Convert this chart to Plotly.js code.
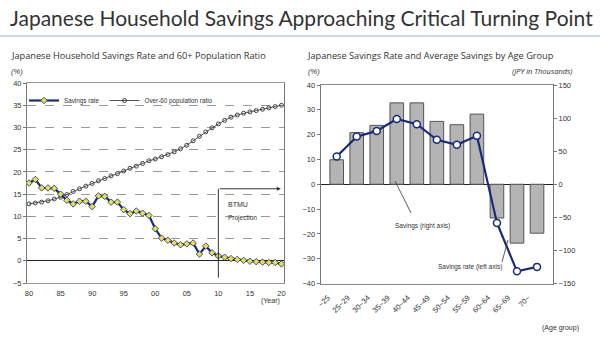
<!DOCTYPE html>
<html>
<head>
<meta charset="utf-8">
<script src="https://cdn.plot.ly/plotly-3.0.1.min.js"></script>
<style>html,body{margin:0;padding:0;background:#fff;}#chart{width:600px;height:348px;}</style>
</head>
<body>
<div id="chart"></div>
<script>
// ---- Left chart data ----
const years = [1980,1981,1982,1983,1984,1985,1986,1987,1988,1989,1990,1991,1992,1993,1994,1995,1996,1997,1998,1999,2000,2001,2002,2003,2004,2005,2006,2007,2008,2009,2010,2011,2012,2013,2014,2015,2016,2017,2018,2019,2020];
const savingsRate = [17.5,18.3,16.4,16.4,16.3,15.0,13.6,12.8,13.4,13.4,12.2,14.6,14.5,13.2,13.2,11.5,10.6,11.2,10.7,10.2,7.2,5.1,4.6,4.0,3.6,3.8,4.0,1.5,3.3,1.8,1.1,0.8,0.5,0.3,0.1,-0.1,-0.2,-0.3,-0.4,-0.4,-0.7];
const over60Ratio = [12.8,13.0,13.2,13.5,13.9,14.3,14.9,15.6,16.2,16.8,17.4,18.0,18.5,19.1,19.6,20.2,20.8,21.3,21.9,22.5,22.9,23.4,23.9,24.5,25.2,26.0,27.0,28.0,29.0,29.9,30.8,31.6,32.3,32.8,33.2,33.5,33.8,34.1,34.4,34.7,35.0];
const yearTickVals = [1980,1985,1990,1995,2000,2005,2010,2015,2020];
const yearTickText = ["80","85","90","95","00","05","10","15","20"];
const projectionStart = 2010;

// ---- Right chart data ----
const ageGroups = ["~25","25~29","30~34","35~39","40~44","45~49","50~54","55~59","60~64","65~69","70~"];
const avgSavings = [37,78,89,123,123,95,90,106,-51,-89,-74];      // JPY thousands, right axis
const ageSavingsRate = [11.2,19.2,21.5,26.3,24.2,17.9,15.9,19.5,-15.6,-35.1,-33.3]; // %, left axis

const W = 600, H = 348;
const px = v => v / W;
const py = v => 1 - v / H;

const tickFont = {family: 'Liberation Sans, Arial, sans-serif', size: 7.5, color: '#333'};

const traces = [
  {
    x: years, y: over60Ratio, name: 'Over-60 population ratio', type: 'scatter', mode: 'lines+markers',
    xaxis: 'x', yaxis: 'y',
    line: {color: '#555', width: 1},
    marker: {symbol: 'circle-open', size: 4, color: '#444', line: {width: 1}}
  },
  {
    x: years, y: savingsRate, name: 'Savings rate', type: 'scatter', mode: 'lines+markers',
    xaxis: 'x', yaxis: 'y',
    line: {color: '#1b2a78', width: 2.2},
    marker: {symbol: 'diamond', size: 5, color: '#e6df4f', line: {color: '#1b2a78', width: 0.8}}
  },
  {
    x: ageGroups, y: avgSavings, name: 'Savings (right axis)', type: 'bar',
    xaxis: 'x2', yaxis: 'y2', width: 0.68,
    marker: {color: '#b4b4b4', line: {color: '#555', width: 1}},
    showlegend: false
  },
  {
    x: ageGroups, y: ageSavingsRate, name: 'Savings rate (left axis)', type: 'scatter', mode: 'lines+markers',
    xaxis: 'x2', yaxis: 'y3',
    line: {color: '#1b2a78', width: 2.2},
    marker: {symbol: 'circle', size: 7, color: '#ffffff', line: {color: '#1b2a78', width: 1.5}},
    showlegend: false
  }
];

const layout = {
  width: W, height: H,
  margin: {l: 0, r: 0, t: 0, b: 0},
  paper_bgcolor: '#fff', plot_bgcolor: '#fff',
  font: {family: 'Liberation Sans, Arial, sans-serif', color: '#333'},
  showlegend: true,
  legend: {
    orientation: 'h', x: px(24), y: py(86), xanchor: 'left', yanchor: 'top',
    font: {size: 6.3, color: '#333'}, bgcolor: 'rgba(0,0,0,0)', traceorder: 'reversed',
    itemwidth: 30, tracegroupgap: 0
  },
  xaxis: {
    domain: [px(27), px(284)], range: [1979.68, 2020.4], anchor: 'y',
    tickvals: yearTickVals, ticktext: yearTickText, tickfont: tickFont,
    showgrid: false, zeroline: false, showline: true, mirror: true, linecolor: '#999', linewidth: 1,
    ticks: '', ticklen: 0, ticklabelstandoff: 3
  },
  yaxis: {
    domain: [py(283), py(83)], range: [-5, 40], dtick: 5, anchor: 'x',
    tickfont: tickFont, showgrid: true, gridcolor: '#999', griddash: 'dash', gridwidth: 1,
    zeroline: true, zerolinecolor: '#222', zerolinewidth: 1,
    showline: true, mirror: true, linecolor: '#777', linewidth: 1, ticks: 'outside', ticklen: 3, tickcolor: '#777'
  },
  xaxis2: {
    domain: [px(320.7), px(553)], anchor: 'y2', type: 'category',
    tickangle: -45, tickfont: tickFont, showgrid: false, zeroline: false,
    showline: true, mirror: true, linecolor: '#888', linewidth: 1, ticks: '',
    ticklabelshift: -9, ticklabelstandoff: 6
  },
  yaxis2: {
    domain: [py(283.5), py(85)], range: [-150, 150], dtick: 50, anchor: 'x2', side: 'right',
    tickfont: tickFont, showgrid: false, zeroline: false,
    showline: true, linecolor: '#777', ticks: 'outside', ticklen: 3, tickcolor: '#777'
  },
  yaxis3: {
    domain: [py(283.5), py(85)], range: [-40, 40], dtick: 10, anchor: 'x2', overlaying: 'y2', side: 'left',
    tickfont: tickFont, showgrid: false, zeroline: true, zerolinecolor: '#222', zerolinewidth: 1,
    showline: true, linecolor: '#777', ticks: 'outside', ticklen: 3, tickcolor: '#777'
  },
  bargap: 0.3,
  shapes: [
    {type: 'line', xref: 'paper', yref: 'paper', x0: 0, x1: 1, y0: py(36), y1: py(36), line: {color: '#9bb0d0', width: 1}},
    {type: 'line', xref: 'x', yref: 'y', x0: projectionStart, x1: projectionStart, y0: -3.8, y1: 16.2, line: {color: '#333', width: 1}},
    {type: 'line', xref: 'paper', yref: 'paper', x0: px(395), y0: py(181), x1: px(411), y1: py(213), line: {color: '#333', width: 0.8}},
    {type: 'line', xref: 'paper', yref: 'paper', x0: px(502), y0: py(262), x1: px(508), y1: py(240), line: {color: '#333', width: 0.8}}
  ],
  annotations: [
    {text: 'Japanese Household Savings Approaching Critical Turning Point', xref: 'paper', yref: 'paper', x: px(8), y: py(18), xanchor: 'left', yanchor: 'middle', showarrow: false, font: {family: 'Lato, Open Sans, sans-serif', size: 21, color: '#333'}},
    {text: 'Japanese Household Savings Rate and 60+ Population Ratio', xref: 'paper', yref: 'paper', x: px(9), y: py(55), xanchor: 'left', yanchor: 'middle', showarrow: false, font: {family: 'Open Sans, sans-serif', size: 9.2, color: '#333'}},
    {text: 'Japanese Savings Rate and Average Savings by Age Group', xref: 'paper', yref: 'paper', x: px(305), y: py(55), xanchor: 'left', yanchor: 'middle', showarrow: false, font: {family: 'Open Sans, sans-serif', size: 9.2, color: '#333'}},
    {text: '<i>(%)</i>', xref: 'paper', yref: 'paper', x: px(9), y: py(72), xanchor: 'left', yanchor: 'middle', showarrow: false, font: {size: 7.5, color: '#333'}},
    {text: '<i>(%)</i>', xref: 'paper', yref: 'paper', x: px(306), y: py(72), xanchor: 'left', yanchor: 'middle', showarrow: false, font: {size: 7.5, color: '#333'}},
    {text: '<i>(JPY in Thousands)</i>', xref: 'paper', yref: 'paper', x: px(574), y: py(71), xanchor: 'right', yanchor: 'middle', showarrow: false, font: {family: 'Open Sans, sans-serif', size: 7.5, color: '#333'}},
    {text: '(Year)', xref: 'paper', yref: 'paper', x: px(270), y: py(301), xanchor: 'center', yanchor: 'middle', showarrow: false, font: {size: 7, color: '#333'}},
    {text: '(Age group)', xref: 'paper', yref: 'paper', x: px(560), y: py(328), xanchor: 'center', yanchor: 'middle', showarrow: false, font: {size: 7, color: '#333'}},
    {text: 'BTMU', xref: 'x', yref: 'y', x: projectionStart + 1.2, y: 12.6, xanchor: 'left', yanchor: 'middle', showarrow: false, font: {size: 7, color: '#333'}},
    {text: 'Projection', xref: 'x', yref: 'y', x: projectionStart + 1.2, y: 9.7, xanchor: 'left', yanchor: 'middle', showarrow: false, font: {size: 6.5, color: '#333'}},
    {text: '', xref: 'x', yref: 'y', x: 2019.9, y: 16.2, axref: 'x', ayref: 'y', ax: projectionStart, ay: 16.2, showarrow: true, arrowhead: 2, arrowsize: 0.8, arrowwidth: 1, arrowcolor: '#333'},
    {text: 'Savings (right axis)', xref: 'paper', yref: 'paper', x: px(422), y: py(226), xanchor: 'center', yanchor: 'middle', showarrow: false, font: {size: 6.5, color: '#333'}},
    {text: 'Savings rate (left axis)', xref: 'paper', yref: 'paper', x: px(470), y: py(267), xanchor: 'center', yanchor: 'middle', showarrow: false, font: {size: 6.5, color: '#333'}}
  ]
};

Plotly.newPlot('chart', traces, layout, {displayModeBar: false, staticPlot: true});
</script>
</body>
</html>
